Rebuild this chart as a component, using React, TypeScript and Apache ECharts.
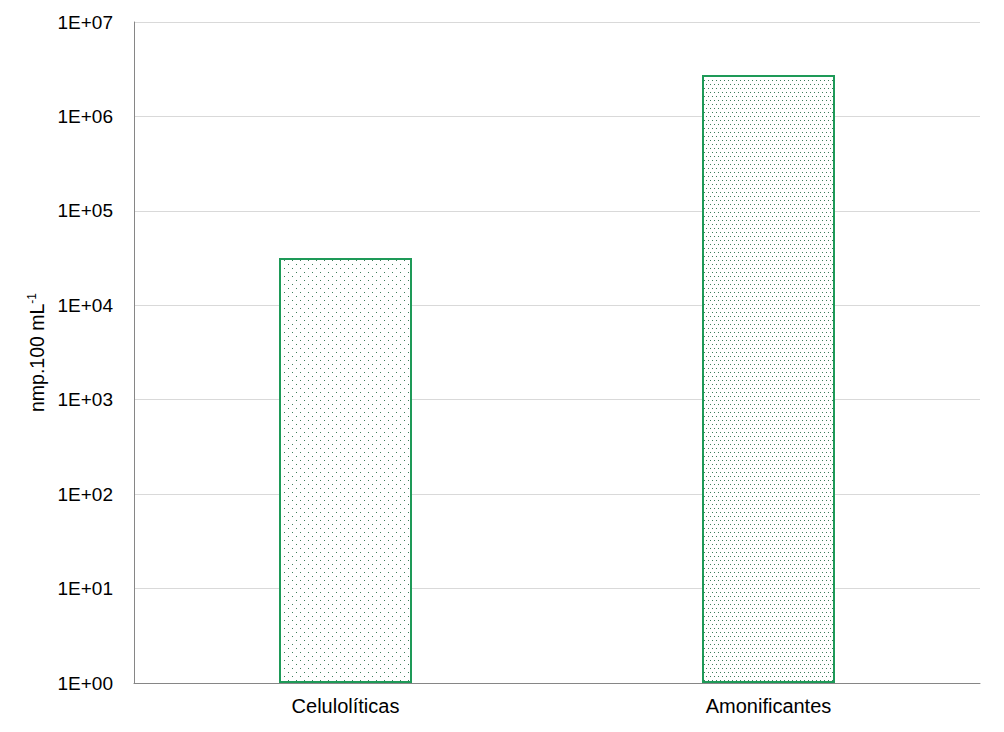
import React, { useEffect, useRef } from "react";
import * as echarts from "echarts";

const categories = ["Celulolíticas", "Amonificantes"];
const values = [31600, 2750000];
const yAxisTitle = "nmp.100 mL";
const yAxisTitleSup = "-1";

function makePattern(w: number, h: number, dots: number[][], color: string): string {
  const c = document.createElement("canvas");
  c.width = w;
  c.height = h;
  const ctx = c.getContext("2d")!;
  ctx.fillStyle = "#ffffff";
  ctx.fillRect(0, 0, w, h);
  ctx.fillStyle = color;
  dots.forEach(([x, y]) => ctx.fillRect(x, y, 1, 1));
  return c.toDataURL();
}

export default function App() {
  const ref = useRef<HTMLDivElement>(null);
  useEffect(() => {
    if (!ref.current) return;
    const chart = echarts.init(ref.current, undefined, { renderer: "svg" });
    const dotColor = "#3f7d5c";
    const p1 = makePattern(8, 8, [[0, 0], [4, 4]], dotColor);
    const p2 = makePattern(8, 8, [[0, 0], [4, 0], [2, 4], [6, 4]], dotColor);
    const patterns = [p1, p2];
    const font = "'Liberation Sans', Arial, sans-serif";
    chart.setOption({
      animation: false,
      backgroundColor: "#ffffff",
      grid: { left: 134, right: 24, top: 22, bottom: 49, containLabel: false },
      xAxis: {
        type: "category",
        data: categories,
        axisLine: { show: true, lineStyle: { color: "#868686", width: 1 } },
        axisTick: { show: false },
        axisLabel: { color: "#000000", fontSize: 20, fontFamily: font, margin: 13 },
        splitLine: { show: false },
      },
      yAxis: {
        type: "log",
        logBase: 10,
        min: 1,
        max: 1e7,
        name: `{a|${yAxisTitle}}{s|${yAxisTitleSup}}`,
        nameLocation: "middle",
        nameRotate: 90,
        nameGap: 86,
        nameTextStyle: {
          rich: {
            a: { fontSize: 19.5, fontFamily: font, color: "#000000" },
            s: { fontSize: 12, fontFamily: font, color: "#000000", verticalAlign: "top", padding: [0, 0, 10, 0] },
          },
        },
        axisLine: { show: true, lineStyle: { color: "#868686", width: 1 } },
        axisTick: { show: false },
        axisLabel: {
          color: "#000000",
          fontSize: 19,
          fontFamily: font,
          margin: 21,
          formatter: (v: number) => {
            const e = Math.round(Math.log10(v));
            return "1E+" + (e < 10 ? "0" + e : String(e));
          },
        },
        splitLine: { show: true, lineStyle: { color: "#d9d9d9", width: 1 } },
      },
      series: [
        {
          type: "bar",
          barWidth: 133,
          data: values.map((v, i) => ({
            value: v,
            itemStyle: {
              color: { image: patterns[i], repeat: "repeat", imageWidth: 8, imageHeight: 8 },
              borderColor: "#1e9a58",
              borderWidth: 2,
            },
          })),
        },
      ],
    });
    return () => chart.dispose();
  }, []);
  return <div ref={ref} style={{ width: 1004, height: 732, position: "absolute", left: 0, top: 0 }} />;
}
